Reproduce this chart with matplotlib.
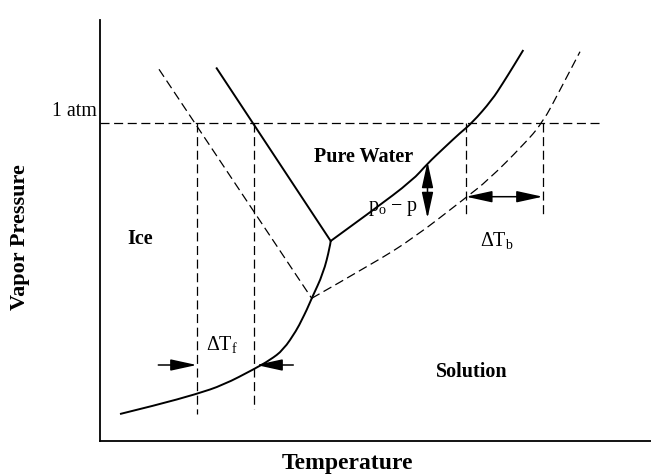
import matplotlib
matplotlib.use("Agg")
import matplotlib.pyplot as plt
from matplotlib.path import Path
from matplotlib.patches import PathPatch

plt.rcParams['font.family'] = ['Liberation Serif', 'DejaVu Serif']
plt.rcParams['mathtext.fontset'] = 'custom'
plt.rcParams['mathtext.rm'] = 'Liberation Serif'
plt.rcParams['mathtext.it'] = 'Liberation Serif:italic'
plt.rcParams['lines.scale_dashes'] = False

# schematic units: temperature left->right, pressure bottom->top
one_atm = 318.3

# pure water: ice/liquid (melting) line
melt_T = [116.7, 230.7]
melt_P = [372.7, 200.0]

# pure water: liquid/vapour curve, from the triple point upward
liq_T = [230.7, 272, 313, 327, 345, 360, 372, 392, 403, 413, 423.3]
liq_P = [200.0, 230, 261, 277, 294, 308, 318, 341, 358, 374, 391]

# ice/vapour (sublimation) curve, from the triple point downward
ice_T = [230.7, 230.0, 223.3, 211.7, 206.7, 201.7, 196.7, 183.3, 170, 154.3, 123.3, 96.7, 56.7, 20]
ice_P = [200.0, 194.3, 167.7, 142.7, 131.0, 121.0, 111.0, 91.0, 81, 72.0, 56.0, 47.0, 36.0, 27]

# solution: ice/solution line (dashed)
smelt_T = [59.0, 211.7]
smelt_P = [371.7, 142.7]

# solution: liquid/vapour curve (dashed)
sliq_T = [211.7, 273.3, 313.3, 365, 388.3, 423.3, 442.7, 460, 480]
sliq_P = [142.7, 177.7, 202.7, 242.7, 261, 296, 318.3, 351, 389.3]

# freezing / boiling temperatures at 1 atm and where their guide lines stop
guide_T = [96.7, 154.3, 366.0, 442.7]
guide_bottom = [27.0, 32.0, 226.0, 226.0]


def smooth_curve(ax, xs, ys, **kw):
    # quadratic b-spline through the read points, drawn as a bezier path
    pts = list(zip(xs, ys))
    verts = [pts[0]]
    codes = [Path.MOVETO]
    for i in range(1, len(pts) - 1):
        end = pts[-1] if i == len(pts) - 2 else ((pts[i][0] + pts[i + 1][0]) / 2,
                                                 (pts[i][1] + pts[i + 1][1]) / 2)
        verts += [pts[i], end]
        codes += [Path.CURVE3, Path.CURVE3]
    ax.add_patch(PathPatch(Path(verts, codes), fill=False, capstyle='butt', **kw))


fig = plt.figure(figsize=(6.51, 4.76), dpi=100)
ax = fig.add_axes([100 / 651, 35 / 476, 551 / 651, 421 / 476])
ax.set_xlim(0, 551)
ax.set_ylim(0, 421)
ax.set_xticks([])
ax.set_yticks([])
for side in ['top', 'right']:
    ax.spines[side].set_visible(False)
for side in ['left', 'bottom']:
    ax.spines[side].set_linewidth(1.3)

dash_style = (0, (6.5, 3.3))
dash = dict(color='black', lw=0.9, linestyle=dash_style)

ax.plot([0, 501.7], [one_atm, one_atm], **dash)
ax.plot(melt_T, melt_P, color='black', lw=1.4)
smooth_curve(ax, liq_T, liq_P, edgecolor='black', lw=1.4)
smooth_curve(ax, ice_T, ice_P, edgecolor='black', lw=1.4)
ax.plot(smelt_T, smelt_P, **dash)
smooth_curve(ax, sliq_T, sliq_P, edgecolor='black', lw=0.9, linestyle=dash_style)
for t, b in zip(guide_T, guide_bottom):
    ax.plot([t, t], [one_atm, b], **dash)

head = dict(color='black', lw=1.1, shrinkA=0, shrinkB=0, mutation_scale=10)
one = dict(arrowstyle='-|>,head_length=1.6,head_width=0.35', **head)
two = dict(arrowstyle='<|-|>,head_length=1.6,head_width=0.35', **head)

# delta T_f arrows
ax.annotate('', xy=(guide_T[0], 76), xytext=(58.3, 76), arrowprops=one)
ax.annotate('', xy=(guide_T[1] + 2, 76), xytext=(193.3, 76), arrowprops=one)
# p_o - p arrow
ax.annotate('', xy=(327.5, 279.3), xytext=(327.5, 222.7), arrowprops=two)
# delta T_b arrow
ax.annotate('', xy=(guide_T[2], 244.3), xytext=(guide_T[3], 244.3), arrowprops=two)

ax.text(-3, 330, '1 atm', ha='right', va='center', fontsize=14.4)
ax.text(263.3, 284.3, 'Pure Water', ha='center', va='center', fontsize=14.5, fontweight='bold')
ax.text(40, 201.7, 'Ice', ha='center', va='center', fontsize=14.5, fontweight='bold')
ax.text(371.7, 69.3, 'Solution', ha='center', va='center', fontsize=14.5, fontweight='bold')
ax.text(121.7, 96.7, r'ΔT$_\mathregular{f}$', ha='center', va='center', fontsize=14.4)
ax.text(396.7, 201, r'ΔT$_\mathregular{b}$', ha='center', va='center', fontsize=14.4)
ax.text(293, 233, r'p$_\mathregular{o}$ − p', ha='center', va='center', fontsize=14.4)

fig.text(347 / 651, 1 - 463 / 476, 'Temperature', ha='center', va='center',
         fontsize=17, fontweight='bold')
fig.text(20 / 651, 1 - 236.7 / 476, 'Vapor Pressure', ha='center', va='center',
         fontsize=16, fontweight='bold', rotation=90)

fig.savefig('out.png', dpi=100)
